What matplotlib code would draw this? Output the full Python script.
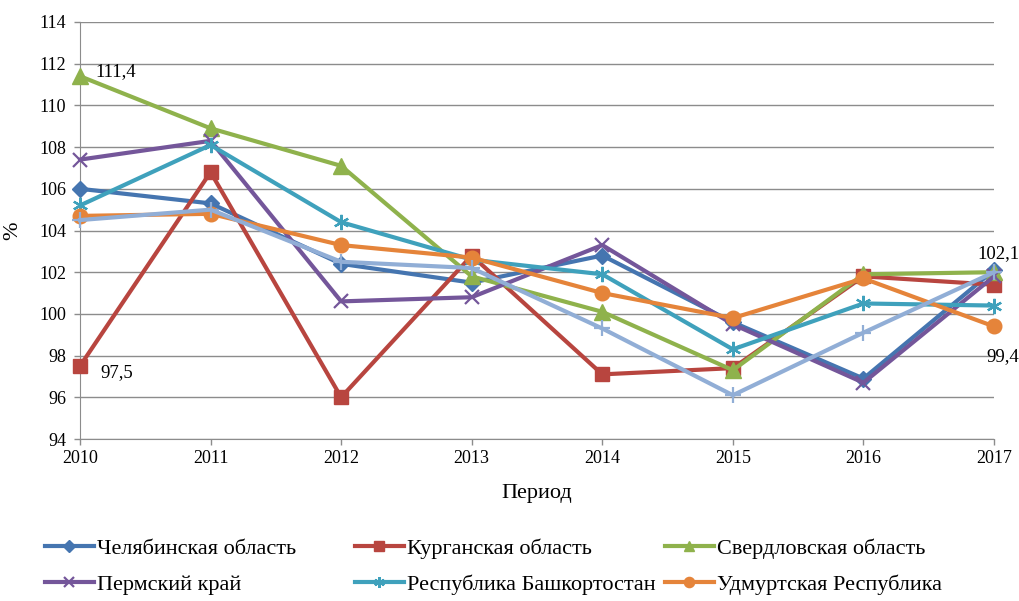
import matplotlib
matplotlib.use("Agg")
import matplotlib.pyplot as plt

plt.rcParams['font.family'] = ['Liberation Serif', 'DejaVu Serif']

years = [2010, 2011, 2012, 2013, 2014, 2015, 2016, 2017]
chel = [106.0, 105.3, 102.4, 101.5, 102.8, 99.6, 96.9, 102.1]
kurg = [97.5, 106.8, 96.0, 102.8, 97.1, 97.4, 101.8, 101.4]
sverd = [111.4, 108.9, 107.1, 101.8, 100.1, 97.3, 101.9, 102.0]
perm = [107.4, 108.3, 100.6, 100.8, 103.3, 99.5, 96.7, 101.8]
bash = [105.2, 108.1, 104.4, 102.6, 101.9, 98.3, 100.5, 100.4]
udm = [104.7, 104.8, 103.3, 102.7, 101.0, 99.8, 101.7, 99.4]
extra = [104.5, 105.0, 102.5, 102.2, 99.3, 96.1, 99.1, 102.0]

labels = ['Челябинская область', 'Курганская область', 'Свердловская область',
          'Пермский край', 'Республика Башкортостан', 'Удмуртская Республика']
yticks = list(range(94, 115, 2))

fig = plt.figure(figsize=(10.19, 6.01), dpi=100)
ax = fig.add_axes([80/1019, 1-439/601, (994-80)/1019, (439-22)/601])

x = list(range(len(years)))
lw = 3.0
series = [
    (chel, '#4575B0', 'D', 8.5, labels[0]),
    (kurg, '#B8453F', 's', 10, labels[1]),
    (sverd, '#8FB24C', '^', 11, labels[2]),
    (perm, '#74569A', 'x', 10, labels[3]),
    (bash, '#3FA1BC', (6, 2, 0), 11, labels[4]),
    (udm, '#E5843A', 'o', 10.5, labels[5]),
    (extra, '#91AED6', '+', 12, '_nolegend_'),
]
handles = []
for vals, col, m, ms, lab in series:
    mew = 1.6 if m in ('x', '+') or isinstance(m, tuple) else 1
    h, = ax.plot(x, vals, color=col, lw=lw, marker=m, ms=ms, mew=mew, mec=col, mfc=col,
                 label=lab, clip_on=False, zorder=3)
    handles.append(h)

ax.set_xlim(0, len(years)-1)
ax.set_ylim(94, 114)
ax.set_yticks(yticks)
ax.set_yticklabels([str(v) for v in yticks], fontsize=13)
ax.set_xticks(x)
ax.set_xticklabels([str(y) for y in years], fontsize=13)
ax.yaxis.grid(True, color='#8C8C8C', lw=1)
ax.set_axisbelow(True)
for s in ['top', 'right']:
    ax.spines[s].set_visible(False)
for s in ['left', 'bottom']:
    ax.spines[s].set_color('#8C8C8C')
ax.tick_params(axis='both', colors='#8C8C8C', labelcolor='black', length=4, width=1)
ax.tick_params(axis='y', pad=6)
ax.tick_params(axis='x', pad=4)

ax.set_xlabel('Период', fontsize=16, labelpad=12)
ax.set_ylabel('%', fontsize=16, labelpad=12)

ax.annotate('111,4', (0, sverd[0]), xytext=(11, 0), textcoords='offset points', fontsize=13.5)
ax.annotate('97,5', (0, kurg[0]), xytext=(15, -5), textcoords='offset points', fontsize=13.5, va='center')
ax.annotate('102,1', (7, chel[7]), xytext=(3, 12), textcoords='offset points', fontsize=13.5, ha='center', va='center')
ax.annotate('99,4', (7, udm[7]), xytext=(6, -22), textcoords='offset points', fontsize=13.5, ha='center', va='center',
            annotation_clip=False)

col_x = [45, 355, 665]
for c in range(3):
    hs = [handles[c], handles[c+3]]
    fig.legend(hs, [labels[c], labels[c+3]], loc='upper left',
               bbox_to_anchor=(col_x[c]/1019, 1-538/601), ncol=1, frameon=False,
               fontsize=16, handlelength=2.2, handletextpad=0.15, borderpad=0,
               borderaxespad=0, labelspacing=0.72, markerscale=0.7)

fig.savefig('out.png', dpi=100)
